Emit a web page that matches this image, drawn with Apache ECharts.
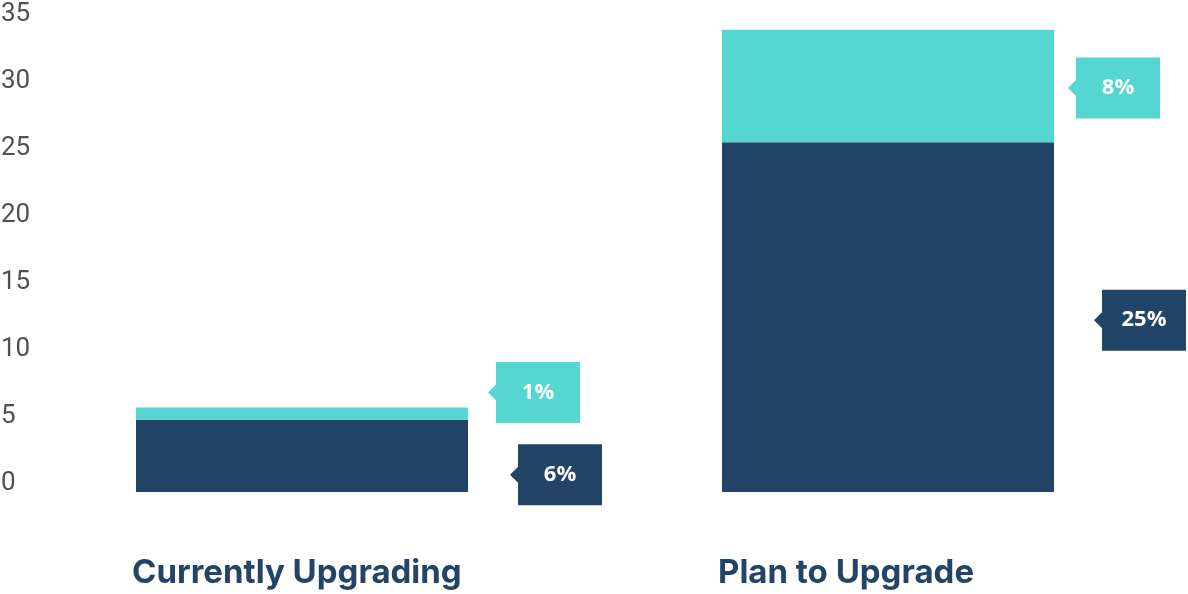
<!DOCTYPE html>
<html>
<head>
<meta charset="utf-8">
<script src="https://cdn.jsdelivr.net/npm/echarts@6/dist/echarts.min.js"></script>
<style>
html,body{margin:0;padding:0;background:#fff;}
#main{width:1188px;height:594px;}
</style>
</head>
<body>
<div id="main"></div>
<script>
// ---- data ----
const categories = ['Currently Upgrading', 'Plan to Upgrade'];
const darkValues = [5.4, 26.1];
const tealValues = [0.9, 8.4];
const darkLabels = ['6%', '25%'];
const tealLabels = ['1%', '8%'];
const yTicks = [0, 5, 10, 15, 20, 25, 30, 35];

// ---- style / layout constants ----
const DARK = '#224466';
const TEAL = '#55D6D0';
const BAR_W = 332;
const BOX_W = 84, BOX_H = 61, ARROW = 8;
// callout offsets per [category][0 = dark, 1 = teal]
const calloutDx = [[50, 28], [48, 22]];
const calloutDy = [[19, -21], [3, 2]];

const calloutData = [];
categories.forEach((c, i) => {
  calloutData.push([i, 0, darkValues[i], 0, darkLabels[i]]);
  calloutData.push([i, darkValues[i], darkValues[i] + tealValues[i], 1, tealLabels[i]]);
});

const chart = echarts.init(document.getElementById('main'), null, {renderer: 'canvas'});
chart.setOption({
  animation: false,
  grid: {left: 9, right: 7, top: 23, bottom: 102, containLabel: false, outerBoundsMode: 'none'},
  xAxis: {
    type: 'category',
    data: categories,
    axisLine: {show: false},
    axisTick: {show: false},
    axisLabel: {
      align: 'left',
      padding: [0, 0, 0, -170],
      margin: 65,
      color: DARK,
      fontFamily: 'Inter',
      fontWeight: 'bold',
      fontSize: 33
    }
  },
  yAxis: {
    type: 'value',
    min: yTicks[0],
    max: yTicks[yTicks.length - 1],
    interval: 5,
    splitLine: {show: false},
    axisLine: {show: false},
    axisTick: {show: false},
    axisLabel: {
      align: 'left',
      verticalAlign: 'bottom',
      margin: 8,
      color: '#505050',
      fontFamily: 'Roboto',
      fontSize: 26,
      lineHeight: 18
    }
  },
  series: [
    {
      type: 'bar', stack: 'total', barWidth: BAR_W,
      itemStyle: {color: DARK},
      data: darkValues
    },
    {
      type: 'bar', stack: 'total', barWidth: BAR_W,
      itemStyle: {color: TEAL},
      data: tealValues
    },
    {
      type: 'custom',
      data: calloutData,
      z: 10,
      renderItem: function (params, api) {
        const i = api.value(0), lo = api.value(1), hi = api.value(2), kind = api.value(3);
        const label = calloutData[params.dataIndex][4];
        const p = api.coord([i, (lo + hi) / 2]);
        const barRight = p[0] + BAR_W / 2;
        const x0 = barRight + calloutDx[i][kind];
        const cy = p[1] + calloutDy[i][kind];
        const top = cy - BOX_H / 2, bot = cy + BOX_H / 2;
        const color = kind === 0 ? DARK : TEAL;
        return {
          type: 'group',
          children: [
            {
              type: 'polygon',
              shape: {points: [
                [x0 - ARROW, cy], [x0, cy - ARROW], [x0, top], [x0 + BOX_W, top],
                [x0 + BOX_W, bot], [x0, bot], [x0, cy + ARROW]
              ]},
              style: {fill: color}
            },
            {
              type: 'text',
              x: x0 + BOX_W / 2,
              y: cy,
              style: {
                text: label,
                fill: '#ffffff',
                font: 'bold 22px "Open Sans"',
                textAlign: 'center',
                textVerticalAlign: 'middle'
              }
            }
          ]
        };
      }
    }
  ]
});
</script>
</body>
</html>
